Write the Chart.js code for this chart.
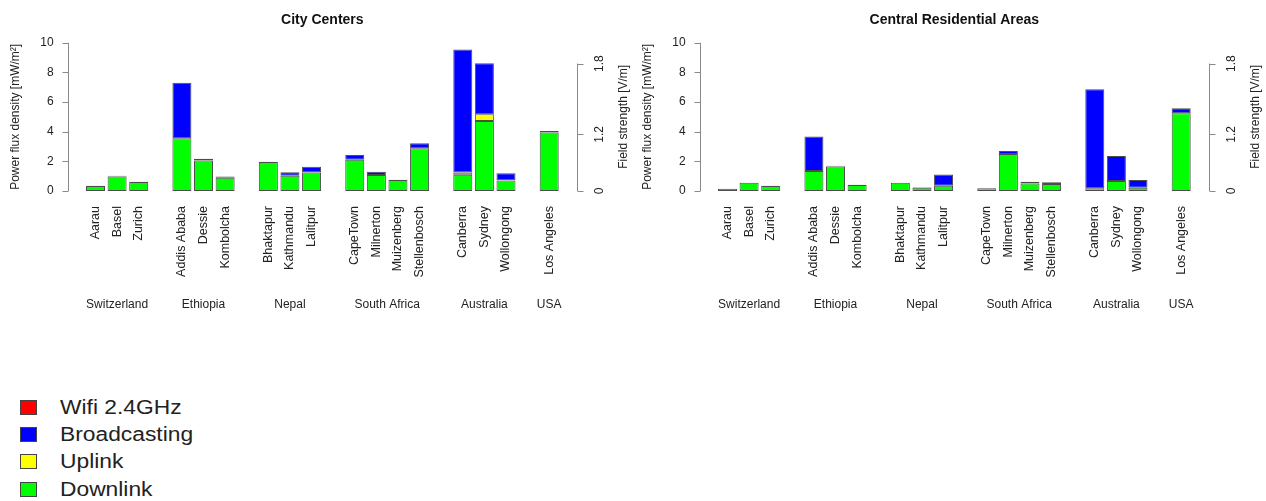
<!DOCTYPE html>
<html>
<head>
<meta charset="utf-8">
<script src="https://cdn.jsdelivr.net/npm/chart.js@4.4.0/dist/chart.umd.min.js"></script>
<style>
body { margin: 0; background: #fff; width: 1266px; height: 501px; overflow: hidden; position: relative; font-family: "Liberation Sans", Arial, sans-serif; }
canvas { position: absolute; top: 0; }
#cc { left: 0; }
#cr { left: 632px; }
#legend { position: absolute; left: 20px; top: 393.5px; }
.item { display: flex; align-items: center; height: 27.3px; }
.box { width: 15px; height: 13px; border: 1px solid #444; margin-right: 23px; }
.lbl { display: inline-block; font-size: 20px; color: #222; transform: scaleX(1.14); transform-origin: left center; }
</style>
</head>
<body>
<canvas id="cc" width="633" height="330"></canvas>
<canvas id="cr" width="633" height="330"></canvas>
<div id="legend"></div>
<script>
// cities grouped by country (a gap slot goes between groups)
const countries = ['Switzerland', 'Ethiopia', 'Nepal', 'South Africa', 'Australia', 'USA'];
const cityGroups = [
    ['Aarau', 'Basel', 'Zurich'],
    ['Addis Ababa', 'Dessie', 'Kombolcha'],
    ['Bhaktapur', 'Kathmandu', 'Lalitpur'],
    ['CapeTown', 'Milnerton', 'Muizenberg', 'Stellenbosch'],
    ['Canberra', 'Sydney', 'Wollongong'],
    ['Los Angeles']
];

// mW/m2, city centers
const downlinkCC  = [0.34, 0.98, 0.6, 3.55, 2.05, 0.9, 1.95, 1.03, 1.24, 2.1, 1.08, 0.74, 2.88, 1.1, 4.72, 0.7, 3.95];
const uplinkCC    = [0, 0, 0, 0, 0, 0, 0, 0, 0, 0, 0, 0, 0, 0.14, 0.45, 0.02, 0];
const broadcastCC = [0.02, 0.05, 0.03, 3.75, 0.12, 0.07, 0.02, 0.23, 0.4, 0.33, 0.22, 0.02, 0.34, 8.3, 3.44, 0.47, 0.1];
const wifiCC      = [0, 0, 0, 0, 0, 0, 0, 0, 0, 0, 0, 0, 0, 0, 0, 0, 0];

// mW/m2, central residential areas
const downlinkCR  = [0.15, 0.56, 0.34, 1.35, 1.65, 0.4, 0.56, 0.22, 0.36, 0.18, 2.5, 0.5, 0.47, 0.18, 0.67, 0.22, 5.24];
const uplinkCR    = [0, 0, 0, 0, 0, 0, 0, 0, 0, 0, 0, 0, 0, 0, 0, 0, 0];
const broadcastCR = [0, 0, 0.02, 2.32, 0.06, 0.02, 0, 0.03, 0.76, 0, 0.2, 0.13, 0.12, 6.68, 1.69, 0.52, 0.34];
const wifiCR      = [0, 0, 0, 0, 0, 0, 0, 0, 0, 0, 0, 0, 0, 0, 0, 0, 0];

const fieldTicks = [0, 1.2, 1.8];        // V/m
const fieldLabels = ['0', '1.2', '1.8'];

Chart.defaults.font.family = '"Liberation Sans", Arial, sans-serif';
Chart.defaults.color = '#222';

function withGaps(vals) {
    const out = [];
    let k = 0;
    cityGroups.forEach((g, gi) => {
        if (gi) out.push(null);
        g.forEach(() => out.push(vals[k++]));
    });
    return out;
}

const labels = withGaps(cityGroups.flat()).map(v => v == null ? '' : v);

// index of middle of each country group on the category axis
const groupCenters = [];
let pos = 0;
cityGroups.forEach(g => {
    groupCenters.push(pos + (g.length - 1) / 2);
    pos += g.length + 1;
});

// R-style axes: short axis lines, field strength axis on the right, country names
const rAxes = {
    id: 'rAxes',
    afterDraw(chart) {
        const { ctx, chartArea: a, scales: { x, y } } = chart;
        ctx.save();
        ctx.strokeStyle = '#8a8a8a';
        ctx.lineWidth = 1;

        const lx = Math.round(a.left - 17) + 0.5;
        ctx.beginPath();
        ctx.moveTo(lx, y.getPixelForValue(0));
        ctx.lineTo(lx, y.getPixelForValue(10));
        y.ticks.forEach(t => {
            const py = Math.round(y.getPixelForValue(t.value)) + 0.5;
            ctx.moveTo(lx, py);
            ctx.lineTo(lx - 6, py);
        });
        ctx.stroke();

        // E = sqrt(377 * S), S in W/m2
        const toS = e => e * e * 1000 / 377;
        const rx = Math.round(a.right + 17) + 0.5;
        ctx.beginPath();
        ctx.moveTo(rx, y.getPixelForValue(toS(fieldTicks[0])));
        ctx.lineTo(rx, y.getPixelForValue(toS(fieldTicks[fieldTicks.length - 1])));
        fieldTicks.forEach(e => {
            const py = Math.round(y.getPixelForValue(toS(e))) + 0.5;
            ctx.moveTo(rx, py);
            ctx.lineTo(rx + 6, py);
        });
        ctx.stroke();

        ctx.fillStyle = '#222';
        ctx.textAlign = 'center';
        ctx.textBaseline = 'middle';
        ctx.font = '12px "Liberation Sans", Arial, sans-serif';
        fieldTicks.forEach((e, i) => {
            ctx.save();
            ctx.translate(rx + 22, y.getPixelForValue(toS(e)));
            ctx.rotate(-Math.PI / 2);
            ctx.fillText(fieldLabels[i], 0, 0);
            ctx.restore();
        });
        ctx.save();
        ctx.translate(rx + 46, y.getPixelForValue(5));
        ctx.rotate(-Math.PI / 2);
        ctx.fillText('Field strength [V/m]', 0, 0);
        ctx.restore();

        countries.forEach((c, i) => {
            ctx.fillText(c, x.getPixelForValue(groupCenters[i]), 305);
        });
        ctx.restore();
    }
};

function makeChart(id, title, down, up, bc, wifi) {
    const common = {
        borderColor: 'rgba(0,0,0,0.7)',
        borderWidth: 1,
        borderSkipped: false,
        barPercentage: 0.88,
        categoryPercentage: 1
    };
    return new Chart(document.getElementById(id), {
        type: 'bar',
        data: {
            labels: labels,
            datasets: [
                { label: 'Downlink', data: withGaps(down), backgroundColor: '#00FF00', ...common },
                { label: 'Uplink', data: withGaps(up), backgroundColor: '#FFFF00', ...common },
                { label: 'Broadcasting', data: withGaps(bc), backgroundColor: '#0000FF', ...common },
                { label: 'Wifi 2.4GHz', data: withGaps(wifi), backgroundColor: '#FF0000', ...common }
            ]
        },
        options: {
            responsive: false,
            animation: false,
            layout: { padding: { right: 73 } },
            plugins: {
                legend: { display: false },
                tooltip: { enabled: false },
                title: {
                    display: true,
                    text: title,
                    fullSize: false,
                    color: '#111',
                    font: { size: 14, weight: 'bold' },
                    padding: { top: 11.6, bottom: 14.3 }
                }
            },
            scales: {
                x: {
                    stacked: true,
                    offset: true,
                    grid: { display: false },
                    border: { display: false },
                    ticks: { autoSkip: false, minRotation: 90, maxRotation: 90, padding: 7, font: { size: 12.5 } },
                    afterFit: s => { s.height = 139; }
                },
                y: {
                    stacked: true,
                    min: 0,
                    max: 10,
                    grid: { display: false },
                    border: { display: false },
                    ticks: { stepSize: 2, padding: 23, font: { size: 12 } },
                    title: { display: true, text: 'Power flux density [mW/m²]', font: { size: 12 }, padding: { top: 8, bottom: 0 } },
                    afterFit: s => { s.width = 84.7; }
                }
            }
        },
        plugins: [rAxes]
    });
}

const leftChart = makeChart('cc', 'City Centers', downlinkCC, uplinkCC, broadcastCC, wifiCC);
makeChart('cr', 'Central Residential Areas', downlinkCR, uplinkCR, broadcastCR, wifiCR);

// legend, top to bottom = reverse stacking order
const items = Chart.defaults.plugins.legend.labels.generateLabels(leftChart).reverse();
const legend = document.getElementById('legend');
items.forEach(it => {
    const row = document.createElement('div');
    row.className = 'item';
    row.innerHTML = '<div class="box" style="background:' + it.fillStyle + '"></div><span class="lbl">' + it.text + '</span>';
    legend.appendChild(row);
});
</script>
</body>
</html>
